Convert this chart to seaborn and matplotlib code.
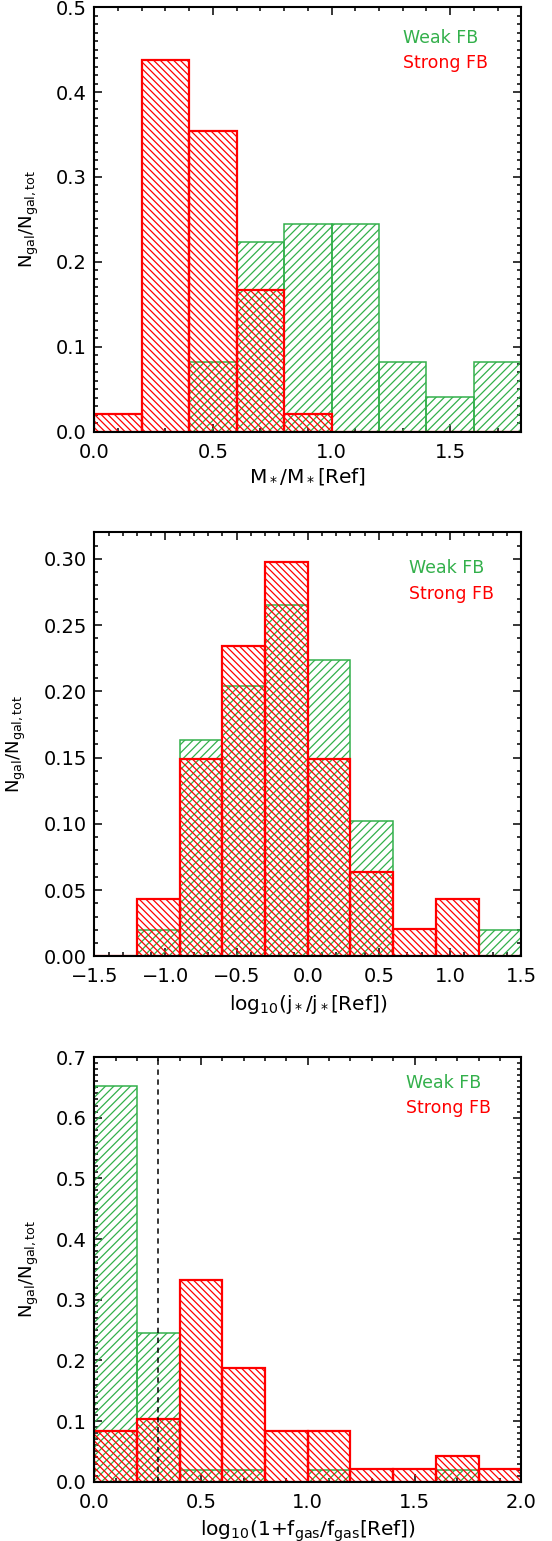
import numpy as np
import pandas as pd
import matplotlib
matplotlib.use("Agg")
import matplotlib.pyplot as plt
import seaborn as sns
from matplotlib.ticker import MultipleLocator, FuncFormatter

sns.set_theme(style="white")
plt.rcParams["font.family"] = ["DejaVu Sans"]
plt.rcParams["hatch.linewidth"] = 0.9
plt.rcParams["axes.unicode_minus"] = True

GREEN = "#33b04b"
RED = "#ff0000"

# ---- data: bin edges and normalised counts (N_gal / N_gal,tot) ----
mass_edges = [0.0, 0.2, 0.4, 0.6, 0.8, 1.0, 1.2, 1.4, 1.6, 1.8]
mass_weak = [0.0, 0.0, 0.082, 0.224, 0.245, 0.245, 0.082, 0.041, 0.082]
mass_strong = [0.021, 0.438, 0.354, 0.167, 0.021, 0.0, 0.0, 0.0, 0.0]

spin_edges = [-1.5, -1.2, -0.9, -0.6, -0.3, 0.0, 0.3, 0.6, 0.9, 1.2, 1.5]
spin_weak = [0.0, 0.020, 0.163, 0.204, 0.265, 0.224, 0.102, 0.0, 0.0, 0.020]
spin_strong = [0.0, 0.043, 0.149, 0.234, 0.298, 0.149, 0.064, 0.021, 0.043, 0.0]

gas_edges = [0.0, 0.2, 0.4, 0.6, 0.8, 1.0, 1.2, 1.4, 1.6, 1.8, 2.0]
gas_weak = [0.653, 0.245, 0.020, 0.020, 0.0, 0.020, 0.0, 0.0, 0.020, 0.0]
gas_strong = [0.083, 0.104, 0.333, 0.188, 0.083, 0.083, 0.021, 0.021, 0.042, 0.021]

gas_threshold = 0.3

panels = [
    dict(edges=mass_edges, weak=mass_weak, strong=mass_strong,
         xlim=(0.0, 1.8), ylim=(0.0, 0.5), xmaj=0.5, xmin=0.1, ymaj=0.1, ymin=0.01,
         ydec=1, xlabel=r"M$_*$/M$_*$[Ref]",
         rect=[0.1708, 0.7199, 0.7736, 0.2754],
         txt=(0.722, 0.9166, 0.8563), ylab_x=-0.125, xlab_y=-0.081),
    dict(edges=spin_edges, weak=spin_weak, strong=spin_strong,
         xlim=(-1.5, 1.5), ylim=(0.0, 0.32), xmaj=0.5, xmin=0.1, ymaj=0.05, ymin=0.01,
         ydec=2, xlabel=r"log$_{10}$(j$_*$/j$_*$[Ref])",
         rect=[0.1708, 0.3794, 0.7736, 0.2751],
         txt=(0.737, 0.9047, 0.842), ylab_x=-0.156, xlab_y=-0.0866),
    dict(edges=gas_edges, weak=gas_weak, strong=gas_strong,
         xlim=(0.0, 2.0), ylim=(0.0, 0.7), xmaj=0.5, xmin=0.1, ymaj=0.1, ymin=0.01,
         ydec=1, xlabel=r"log$_{10}$(1+f$_{\rm gas}$/f$_{\rm gas}$[Ref])",
         rect=[0.1708, 0.03848, 0.7736, 0.2756],
         txt=(0.729, 0.9277, 0.869), ylab_x=-0.1257, xlab_y=-0.0855),
]


def make_fmt(dec):
    def f(v, pos):
        s = f"{abs(v):.{dec}f}"
        return ("\u2212" + s) if v < -1e-9 else s
    return FuncFormatter(f)


fig = plt.figure(figsize=(5.52, 15.41), dpi=100)

for i, p in enumerate(panels):
    ax = fig.add_axes(p["rect"])
    edges = np.asarray(p["edges"], dtype=float)
    centers = 0.5 * (edges[:-1] + edges[1:])
    df = pd.DataFrame({"x": centers, "weak": p["weak"], "strong": p["strong"]})
    sns.histplot(data=df, x="x", weights="weak", bins=list(edges), element="bars",
                 fill=False, color=GREEN, hatch="////", linewidth=1.1, ax=ax)
    sns.histplot(data=df, x="x", weights="strong", bins=list(edges), element="bars",
                 fill=False, color=RED, hatch="\\\\\\\\\\", linewidth=1.6, ax=ax)
    if i == 2:
        ax.axvline(gas_threshold, color="black", linestyle=(0, (3.5, 3)), linewidth=1.1)

    ax.set_xlim(*p["xlim"])
    ax.set_ylim(*p["ylim"])
    ax.xaxis.set_major_locator(MultipleLocator(p["xmaj"]))
    ax.xaxis.set_minor_locator(MultipleLocator(p["xmin"]))
    ax.yaxis.set_major_locator(MultipleLocator(p["ymaj"]))
    ax.yaxis.set_minor_locator(MultipleLocator(p["ymin"]))
    ax.xaxis.set_major_formatter(make_fmt(1))
    ax.yaxis.set_major_formatter(make_fmt(p["ydec"]))

    ax.tick_params(which="both", direction="in", top=True, right=True,
                   bottom=True, left=True, color="black", width=1.1)
    ax.tick_params(which="major", length=6)
    ax.tick_params(which="minor", length=3)
    ax.tick_params(axis="x", which="major", labelsize=14, pad=8, labelcolor="black")
    ax.tick_params(axis="y", which="major", labelsize=14, pad=5.5, labelcolor="black")
    for s in ax.spines.values():
        s.set_color("black")
        s.set_linewidth(1.5)
        s.set_visible(True)

    ax.set_ylabel(r"N$_{\rm gal}$/N$_{\rm gal,tot}$", fontsize=13, color="black")
    ax.set_xlabel(p["xlabel"], fontsize=14.5, color="black")
    ax.yaxis.set_label_coords(p["ylab_x"], 0.5)
    ax.xaxis.set_label_coords(0.5, p["xlab_y"])
    ax.xaxis.label.set_verticalalignment("top")

    tx, ty1, ty2 = p["txt"]
    ax.text(tx, ty1, "Weak FB", color=GREEN, fontsize=12.5, transform=ax.transAxes,
            ha="left", va="baseline")
    ax.text(tx, ty2, "Strong FB", color=RED, fontsize=12.5, transform=ax.transAxes,
            ha="left", va="baseline")

fig.savefig("out.png", dpi=100)
